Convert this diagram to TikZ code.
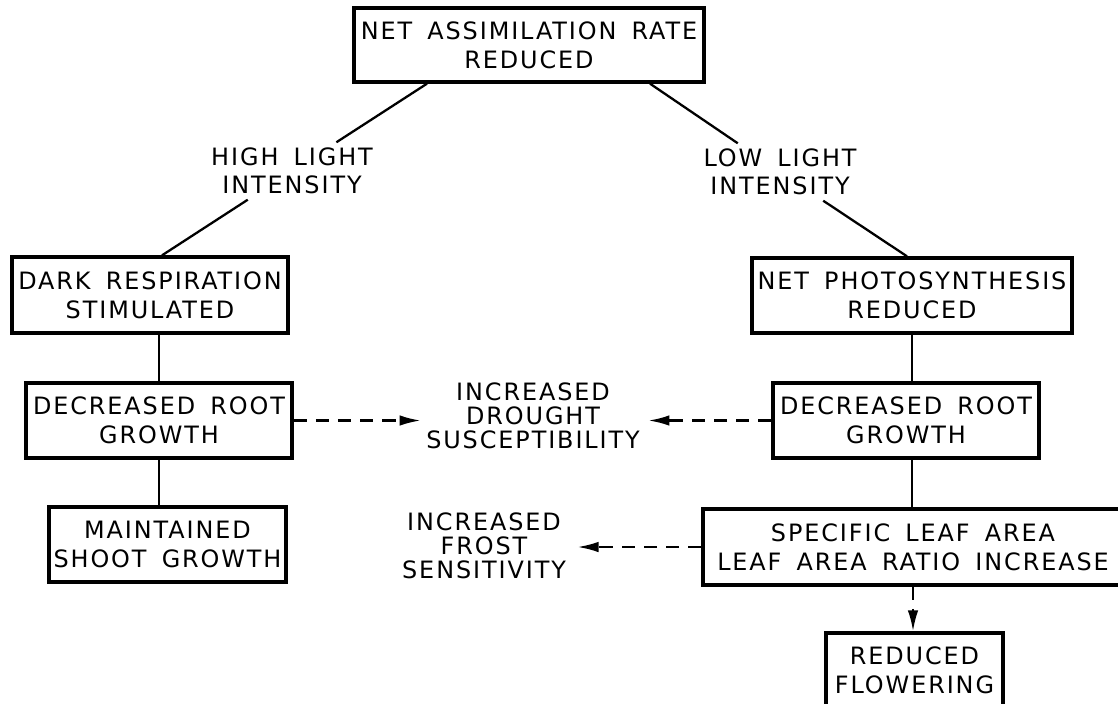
\documentclass[tikz,border=0pt]{standalone}
\usepackage{fontspec}
\setmainfont{DejaVu Sans}[LetterSpace=8,WordSpace=1.6]
\usetikzlibrary{arrows.meta,calc}
\tikzset{box/.style={draw,line width=1.9pt,align=center,inner sep=0pt,
font=\fontsize{13.6pt}{16.4pt}\selectfont},
lbl/.style={align=center,inner sep=3pt,fill=white,font=\fontsize{13.6pt}{16pt}\selectfont},
side/.style={align=center,inner sep=3pt,font=\fontsize{13.6pt}{13.8pt}\selectfont},
link/.style={line width=1.3pt},
hint/.style={line width=1.3pt,dash pattern=on 7.6pt off 5pt,-{Latex[length=12pt,width=6pt]}}}
\begin{document}
\begin{tikzpicture}[x=0.02cm,y=-0.02cm]
\clip (0,0) rectangle (1118,703);
\node[box,minimum width=7cm,minimum height=1.48cm](nar) at (529,45){NET ASSIMILATION RATE\\REDUCED};
\node[box,minimum width=5.52cm,minimum height=1.52cm](dark) at (150,295){DARK RESPIRATION\\STIMULATED};
\node[box,minimum width=5.32cm,minimum height=1.5cm](rootL) at (159,420.5){DECREASED ROOT\\GROWTH};
\node[box,minimum width=4.74cm,minimum height=1.5cm](shoot) at (167.5,544.5){MAINTAINED\\SHOOT GROWTH};
\node[box,minimum width=6.4cm,minimum height=1.5cm](photo) at (912,295.5){NET PHOTOSYNTHESIS\\REDUCED};
\node[box,minimum width=5.32cm,minimum height=1.5cm](rootR) at (906,420.5){DECREASED ROOT\\GROWTH};
\node[box,minimum width=8.4cm,minimum height=1.52cm](sla) at (913,547){SPECIFIC LEAF AREA\\LEAF AREA RATIO INCREASE};
\node[box,minimum width=3.54cm,minimum height=1.5cm](flower) at (914.5,670.5){REDUCED\\FLOWERING};
\node[lbl](high) at (292,171){HIGH LIGHT\\INTENSITY};
\node[lbl](low) at (780,172){LOW LIGHT\\INTENSITY};
\node[side](drought) at (533,416){INCREASED\\DROUGHT\\SUSCEPTIBILITY};
\node[side](frost) at (484,546){INCREASED\\FROST\\SENSITIVITY};
% light intensity branches
\draw[link]($(nar.south)+(-102,0)$)--(high)--($(dark.north)+(12,0)$);
\draw[link]($(nar.south)+(121,0)$)--(low)--($(photo.north)+(-5,0)$);
% left chain
\draw[link](rootL.north)--(rootL.north|-dark.south);
\draw[link](rootL.south)--(rootL.south|-shoot.north);
% right chain
\draw[link](photo.south)--(photo.south|-rootR.north);
\draw[link](photo.south|-rootR.south)--(photo.south|-sla.north);
% dashed consequences
\draw[hint](rootL.east)--(rootL.east-|drought.west);
\draw[hint](rootR.west)--($(rootR.west-|drought.east)+(3,0)$);
\draw[hint](sla.west)--($(sla.west-|frost.east)+(6,0)$);
\draw[hint](sla.south)--(sla.south|-flower.north);
\end{tikzpicture}
\end{document}
